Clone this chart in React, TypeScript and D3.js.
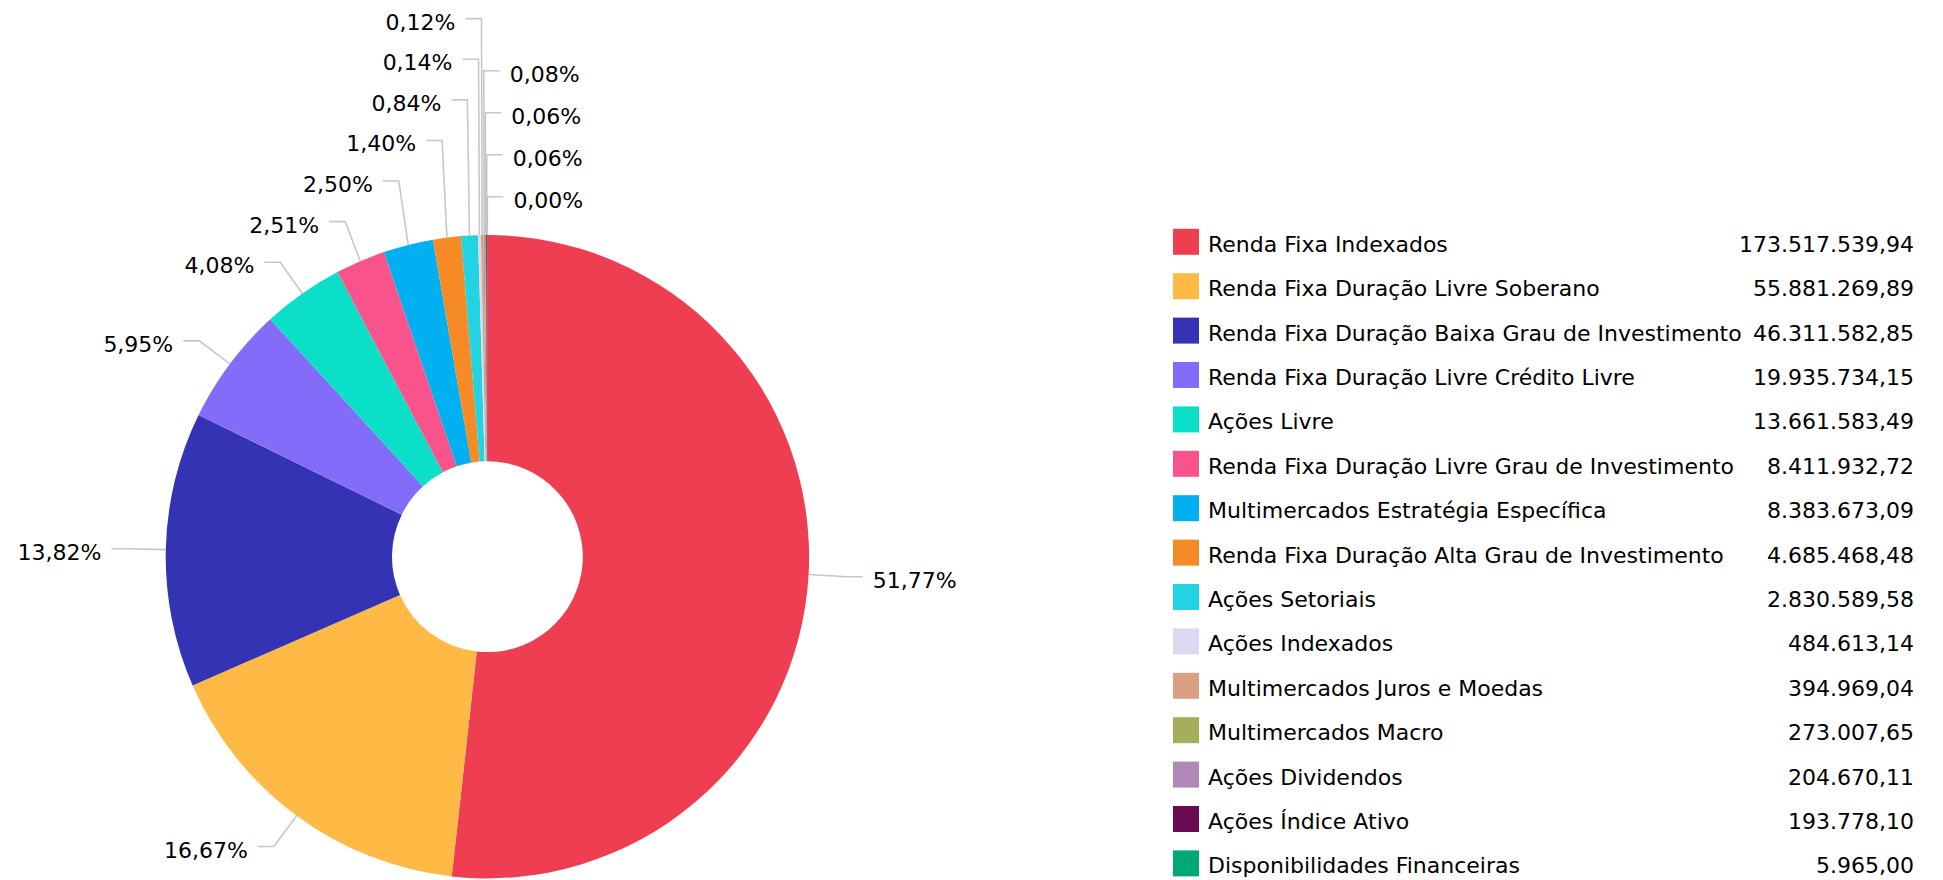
import React from "react";
import * as d3 from "d3";

const categories: string[] = [
  "Renda Fixa Indexados",
  "Renda Fixa Duração Livre Soberano",
  "Renda Fixa Duração Baixa Grau de Investimento",
  "Renda Fixa Duração Livre Crédito Livre",
  "Ações Livre",
  "Renda Fixa Duração Livre Grau de Investimento",
  "Multimercados Estratégia Específica",
  "Renda Fixa Duração Alta Grau de Investimento",
  "Ações Setoriais",
  "Ações Indexados",
  "Multimercados Juros e Moedas",
  "Multimercados Macro",
  "Ações Dividendos",
  "Ações Índice Ativo",
  "Disponibilidades Financeiras",
];

const values: number[] = [
  173517539.94, 55881269.89, 46311582.85, 19935734.15, 13661583.49,
  8411932.72, 8383673.09, 4685468.48, 2830589.58, 484613.14, 394969.04,
  273007.65, 204670.11, 193778.1, 5965.0,
];

const colors: string[] = [
  "#EF3E52", "#FEBA45", "#3333B3", "#826CF9", "#0BDFC7",
  "#F8548B", "#00B0F0", "#F68B26", "#22D3E2", "#DDD7F1",
  "#DAA081", "#A6AD5C", "#B088B8", "#6A0A50", "#00A878",
];

const W = 1943;
const H = 880;
const cx = 487.4;
const cy = 556.7;
const outerR = 321.7;
const innerR = 95.4;
const bendR = 360;
const spacingRight = 42;
const spacingLeft = 40.6;
const FONT = "'DejaVu Sans', Verdana, sans-serif";

const locale = d3.formatLocale({
  decimal: ",",
  thousands: ".",
  grouping: [3],
  currency: ["R$", ""],
});
const fmtValue = locale.format(",.2f");
const fmtPct = locale.format(".2f");

export default function App() {
  const total = d3.sum(values);
  const arcs = d3
    .pie<number>()
    .sort(null)
    .value((d) => d)
    .startAngle(0)
    .endAngle(2 * Math.PI)(values);
  const arcGen = d3
    .arc<d3.PieArcDatum<number>>()
    .innerRadius(innerR)
    .outerRadius(outerR);

  type Lab = {
    i: number;
    mid: number;
    side: 1 | -1;
    natural: number;
    y: number;
  };
  const labs: Lab[] = arcs.map((a, i) => {
    const mid = (a.startAngle + a.endAngle) / 2;
    const side: 1 | -1 = Math.sin(mid) > -0.013 ? 1 : -1;
    return { i, mid, side, natural: cy - bendR * Math.cos(mid), y: 0 };
  });

  const right = labs
    .filter((l) => l.side === 1)
    .sort((a, b) => {
      const sa = a.mid > Math.PI ? a.mid - 2 * Math.PI : a.mid;
      const sb = b.mid > Math.PI ? b.mid - 2 * Math.PI : b.mid;
      return sa - sb;
    });
  const left = labs.filter((l) => l.side === -1).sort((a, b) => b.mid - a.mid);
  const place = (list: Lab[], gap: number) => {
    for (let k = list.length - 1; k >= 0; k--) {
      const l = list[k];
      l.y = k === list.length - 1 ? l.natural : Math.min(l.natural, list[k + 1].y - gap);
    }
  };
  place(right, spacingRight);
  place(left, spacingLeft);

  const legendX = 1173;
  const legendY0 = 241.8;
  const legendStep = 44.4;
  const sw = 26;

  return (
    <svg
      width={W}
      height={H}
      style={{ position: "absolute", left: 0, top: 0, background: "#fff" }}
      fontFamily={FONT}
    >
      <g transform={`translate(${cx},${cy})`}>
        {arcs.map((a, i) => (
          <path key={i} d={arcGen(a) || ""} fill={colors[i]} />
        ))}
      </g>
      {labs.map((l) => {
        const ax = cx + outerR * Math.sin(l.mid);
        const ay = cy - outerR * Math.cos(l.mid);
        const bx = cx + bendR * Math.sin(l.mid);
        const ex = bx + l.side * 16;
        const tx = bx + l.side * 26;
        const pct = (values[l.i] / total) * 100;
        return (
          <g key={l.i}>
            <polyline
              points={`${ax},${ay} ${bx},${l.y} ${ex},${l.y}`}
              fill="none"
              stroke="#BDBDBD"
              strokeOpacity={0.85}
              strokeWidth={1.6}
            />
            <text
              x={tx}
              y={l.y + 11}
              fontSize={22}
              fill="#000"
              textAnchor={l.side === 1 ? "start" : "end"}
            >
              {fmtPct(pct) + "%"}
            </text>
          </g>
        );
      })}
      {categories.map((c, i) => {
        const yc = legendY0 + i * legendStep;
        return (
          <g key={c}>
            <rect x={legendX} y={yc - sw / 2} width={sw} height={sw} fill={colors[i]} />
            <text x={1208} y={yc + 10} fontSize={22} fill="#000">
              {c}
            </text>
            <text x={1914} y={yc + 10} fontSize={22} fill="#000" textAnchor="end">
              {fmtValue(values[i])}
            </text>
          </g>
        );
      })}
    </svg>
  );
}
